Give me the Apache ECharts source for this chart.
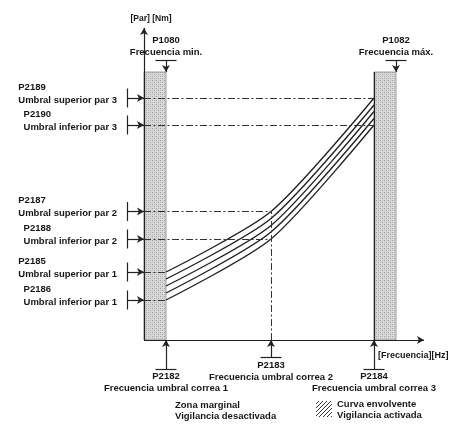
<!DOCTYPE html>
<html><head><meta charset="utf-8">
<script src="https://cdn.jsdelivr.net/npm/echarts@6/dist/echarts.min.js"></script>
<style>html,body{margin:0;padding:0;background:#fff}#c{width:455px;height:428px}</style>
</head><body><div id="c"></div>
<script>
// ---------- data ----------
const thresholdCodes = ['P2189','P2190','P2187','P2188','P2185','P2186'];
const thresholdNames = ['Umbral superior par 3','Umbral inferior par 3','Umbral superior par 2','Umbral inferior par 2','Umbral superior par 1','Umbral inferior par 1'];
const thresholdValues = [48.4, 43.0, 25.7, 20.2, 13.6, 8.0];   // torque (arbitrary units)
const thresholdEnds = [46, 46, 25.4, 25.4, 4.4, 4.4];          // frequency where each dash-dot line stops
const freqCodes = ['P2182','P2183','P2184'];
const freqNames = ['Frecuencia umbral correa 1','Frecuencia umbral correa 2','Frecuencia umbral correa 3'];
const freqValues = [4.4, 25.4, 46];
const limitCodes = ['P1080','P1082'];
const limitNames = ['Frecuencia min.','Frecuencia máx.'];
const limitValues = [4.4, 50.4];
const bandTop = 53.6;
const envFreq  = [4.4, 25.4, 46];
const envUpper = [13.6, 25.7, 48.4];
const envMid1  = [12.2, 24.3, 47.0];
const envMid2  = [10.8, 22.9, 45.7];
const envMid3  = [9.4, 21.6, 44.3];
const envLower = [8.0, 20.2, 43.0];
const axisMaxFreq = 56;
const axisMaxTorque = 62.4;
const yAxisTitle = '[Par] [Nm]';
const xAxisTitle = '[Frecuencia][Hz]';
const legendNames = [['Zona marginal','Vigilancia desactivada'],['Curva envolvente','Vigilancia activada']];

// ---------- layout ----------
const FONT = '"Liberation Sans", Arial, sans-serif';
const freqTickDepth = [5.8, 3.4, 5.8];
const TXT = '#161616';
const LINE = '#222';
const DASHDOT = [7, 2.5, 2, 2.5];

function dotPattern(){
  const c=document.createElement('canvas');c.width=c.height=4;
  const g=c.getContext('2d');g.fillStyle='#d9d9d9';g.fillRect(0,0,4,4);
  g.fillStyle='#a2a2a2';g.fillRect(0,0,1,1);g.fillRect(2,2,1,1);
  g.fillStyle='#bdbdbd';g.fillRect(2,0,1,1);g.fillRect(0,2,1,1);
  return c;
}
function hatchPattern(){
  const c=document.createElement('canvas');c.width=c.height=4;
  const g=c.getContext('2d');g.fillStyle='#fff';g.fillRect(0,0,4,4);
  g.strokeStyle='#333';g.lineWidth=1;g.beginPath();g.moveTo(0,4);g.lineTo(4,0);g.moveTo(-1,1);g.lineTo(1,-1);g.moveTo(3,5);g.lineTo(5,3);g.stroke();
  return c;
}

const chart = echarts.init(document.getElementById('c'), null, {renderer:'canvas'});

const seg = (a, b, style, s0, s1) => [
  {coord:a, symbol:s0||'none', symbolSize:[6,7], lineStyle:style},
  {coord:b, symbol:s1||'none', symbolSize:[6,7]}
];
const solid = {color:LINE, width:1.2, type:'solid'};
const dd = {color:'#333', width:1, type:DASHDOT};

const marks = [];
// axes
marks.push(seg([0,0],[0,axisMaxTorque], solid, 'none','arrow'));
marks.push(seg([0,0],[axisMaxFreq,0], solid, 'none','arrow'));
// right band left edge
marks.push(seg([freqValues[2],0],[freqValues[2],bandTop], solid));
// thresholds
thresholdValues.forEach((v,i)=>{
  marks.push(seg([0,v],[thresholdEnds[i],v], dd));
  marks.push(seg([-3.4,v],[0,v], solid, 'none','arrow'));
  marks.push(seg([-3.4,v-1.9],[-3.4,v+1.9], solid));
});
// P2183 vertical
marks.push(seg([freqValues[1],0],[freqValues[1],thresholdValues[2]], dd));
// frequency markers
freqValues.forEach((f,i)=>{
  const d=freqTickDepth[i];
  marks.push(seg([f,-d],[f,0], solid, 'none','arrow'));
  marks.push(seg([f-2.1,-d],[f+2.1,-d], solid));
});
// limit markers
limitValues.forEach(f=>{
  marks.push(seg([f,56],[f,bandTop], solid, 'none','arrow'));
  marks.push(seg([f-2.1,56],[f+2.1,56], solid));
});

const bandPat = {image: dotPattern(), repeat:'repeat'};
const envLines = [envUpper, envMid1, envMid2, envMid3, envLower];

const series = [
  {type:'line', data:[[0,0]], symbol:'none', lineStyle:{width:0}, z:1, silent:true,
   markArea:{silent:true, itemStyle:{color:bandPat, borderColor:'#888', borderWidth:0.8},
     data:[[{coord:[0,0]},{coord:[limitValues[0],bandTop]}],[{coord:[freqValues[2],0]},{coord:[limitValues[1],bandTop]}]]}}
];
envLines.forEach(arr=>{
  series.push({type:'line', data:envFreq.map((f,i)=>[f,arr[i]]), smooth:0.25, symbol:'none', silent:true, z:3,
    lineStyle:{color:'#1e1e1e', width:1.3}});
});
series.push({type:'line', data:[[0,0]], symbol:'none', lineStyle:{width:0}, z:4, silent:true,
  markLine:{silent:true, symbol:['none','none'], label:{show:false}, animation:false, data:marks}});

chart.setOption({
  animation:false,
  backgroundColor:'#fff',
  grid:{left:0,right:0,top:0,bottom:0},
  xAxis:{type:'value', min:-28.8, max:62.2, show:false},
  yAxis:{type:'value', min:-17.6, max:68, show:false},
  series
});

// ---------- text ----------
const mctx = document.createElement('canvas').getContext('2d');
function tw(t, size){ mctx.font = 'bold '+size+'px '+FONT; return mctx.measureText(t).width; }
const P = (x,y)=>chart.convertToPixel({gridIndex:0},[x,y]);
const g = [];
const txt = (x,y,t,align,size)=>g.push({type:'text', x, y, silent:true,
  style:{text:t, fill:TXT, font:'bold '+(size||9.5)+'px '+FONT, textAlign:align||'left', textVerticalAlign:'middle'}});

thresholdValues.forEach((v,i)=>{
  const py = P(0,v)[1];
  const w = tw(thresholdNames[i], 9.5);
  txt(117, py+2, thresholdNames[i], 'right');
  txt(117-w, py-11, thresholdCodes[i], 'left');
});
const codeY = [376, 365, 376], nameY = [388, 377, 388];
freqValues.forEach((f,i)=>{
  const px = P(f,0)[0];
  txt(px, codeY[i], freqCodes[i], 'center');
  txt(px, nameY[i], freqNames[i], 'center');
});
limitValues.forEach((f,i)=>{
  const px = P(f,0)[0];
  txt(px, 40, limitCodes[i], 'center');
  txt(px, 52, limitNames[i], 'center');
});
txt(151, 19, yAxisTitle, 'center', 8.5);
txt(378, 356, xAxisTitle, 'left', 9);
txt(175, 405, legendNames[0][0]); txt(175, 416, legendNames[0][1]);
txt(337, 404, legendNames[1][0]); txt(337, 415, legendNames[1][1]);
g.push({type:'rect', shape:{x:316,y:401,width:16,height:16}, silent:true,
  style:{fill:{image:hatchPattern(), repeat:'repeat'}, stroke:null}});

chart.setOption({graphic:g});
</script>
</body></html>
